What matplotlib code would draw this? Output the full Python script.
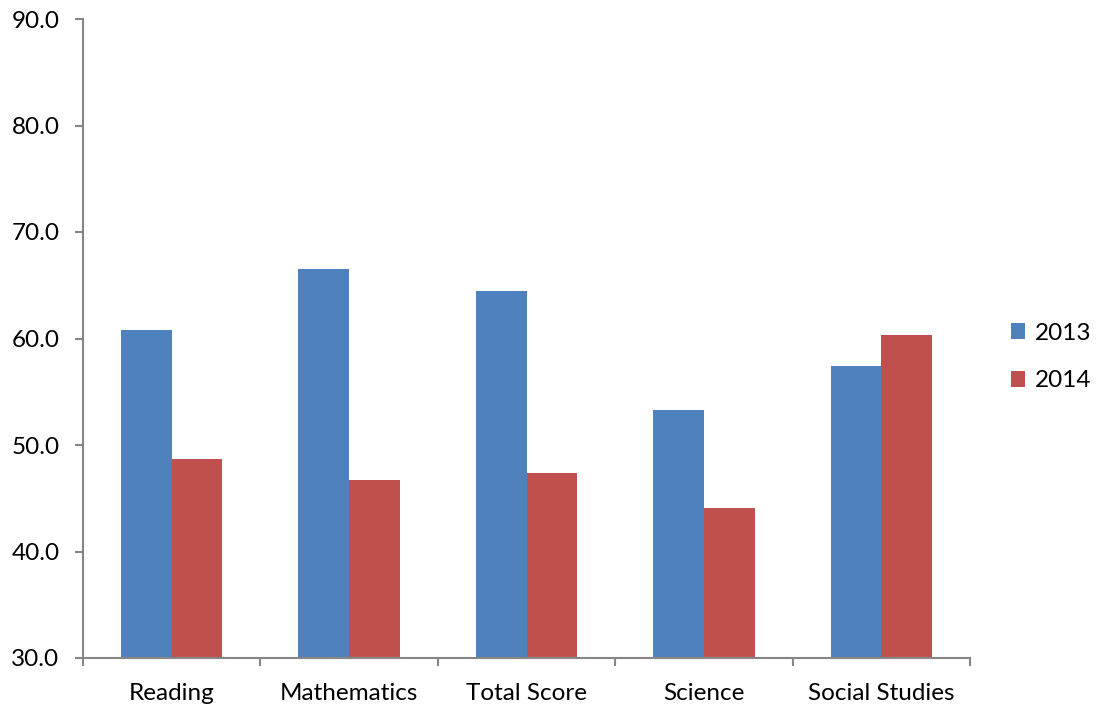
import matplotlib.pyplot as plt
import numpy as np

plt.rcParams['font.family'] = ['Lato', 'DejaVu Sans']

subjects = ['Reading', 'Mathematics', 'Total Score', 'Science', 'Social Studies']
scores_2013 = [60.8, 66.5, 64.5, 53.3, 57.4]
scores_2014 = [48.7, 46.7, 47.4, 44.1, 60.3]
y_ticks = [30, 40, 50, 60, 70, 80, 90]

blue = '#4F81BD'
red = '#C0504D'
axis_gray = '#868686'

fig = plt.figure(figsize=(10.96, 7.10), dpi=100)
ax = fig.add_axes([83 / 1096, 1 - 658 / 710, (970 - 83) / 1096, (658 - 19) / 710])

x = np.arange(len(subjects))
w = 1 / 3.5
b1 = ax.bar(x - w / 2, scores_2013, width=w, color=blue, label='2013')
b2 = ax.bar(x + w / 2, scores_2014, width=w, color=red, label='2014')

ax.set_xlim(-0.5, len(subjects) - 0.5)
ax.set_ylim(30, 90)
ax.set_yticks(y_ticks)
ax.set_yticklabels([f'{v:.1f}' for v in y_ticks])

# category labels centred, tick marks on the boundaries
ax.set_xticks(x)
ax.set_xticklabels(subjects)
ax.set_xticks(np.arange(len(subjects) + 1) - 0.5, minor=True)
ax.tick_params(axis='x', which='major', length=0, pad=18)
ax.tick_params(axis='x', which='minor', length=6, width=1.5, color=axis_gray, direction='out')
ax.tick_params(axis='y', length=6, width=1.5, color=axis_gray, direction='out', pad=11)
ax.tick_params(labelsize=17.5)

for side in ['top', 'right']:
    ax.spines[side].set_visible(False)
for side in ['left', 'bottom']:
    ax.spines[side].set_color(axis_gray)
    ax.spines[side].set_linewidth(1.5)

fig.legend(handles=[b1, b2], loc='center left', bbox_to_anchor=(989 / 1096, 1 - 357 / 710),
           frameon=False, fontsize=17.5, handlelength=0.6, handleheight=0.6,
           handletextpad=0.4, labelspacing=1.1)

fig.savefig('out.png', dpi=100)
